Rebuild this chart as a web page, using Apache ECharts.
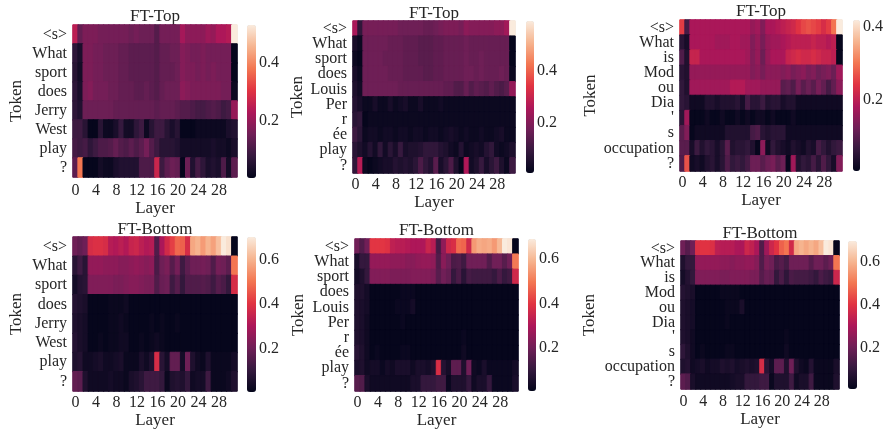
<!DOCTYPE html>
<html>
<head>
<meta charset="utf-8">
<title>FT-Top / FT-Bottom</title>
<script src="https://cdn.jsdelivr.net/npm/echarts@6/dist/echarts.min.js"></script>
<style>
  html, body { margin: 0; padding: 0; background: #fff; }
  #chart { width: 887px; height: 435px; }
</style>
</head>
<body>
<div id="chart"></div>
<script>
// layers on the x axis
const layers = ['0','1','2','3','4','5','6','7','8','9','10','11','12','13','14','15',
  '16','17','18','19','20','21','22','23','24','25','26','27','28','29','30','31'];

// tokens on the y axis
const tokensJerry = ['<s>','What','sport','does','Jerry','West','play','?'];
const tokensLouis = ['<s>','What','sport','does','Louis','Per','r','ée','play','?'];
const tokensModou = ['<s>','What','is','Mod','ou','Dia',"'",'s','occupation','?'];

// FT-Top, Jerry West
const topJerry = [
  [0.25,0.14,0.17,0.17,0.17,0.16,0.16,0.16,0.16,0.16,0.16,0.15,0.16,0.15,0.15,0.15,0.12,0.16,0.16,0.16,0.16,0.22,0.19,0.19,0.19,0.19,0.21,0.2,0.23,0.23,0.24,0.53],
  [0.07,0.04,0.17,0.17,0.16,0.16,0.15,0.15,0.15,0.14,0.14,0.13,0.13,0.13,0.13,0.13,0.12,0.14,0.14,0.15,0.15,0.18,0.17,0.16,0.16,0.17,0.16,0.16,0.16,0.16,0.16,0.01],
  [0.06,0.03,0.17,0.17,0.16,0.16,0.15,0.15,0.15,0.14,0.14,0.13,0.13,0.13,0.13,0.13,0.12,0.14,0.14,0.14,0.15,0.18,0.17,0.17,0.16,0.17,0.16,0.17,0.16,0.16,0.16,0.01],
  [0.07,0.04,0.17,0.18,0.16,0.16,0.16,0.15,0.15,0.14,0.14,0.14,0.13,0.13,0.14,0.13,0.12,0.14,0.15,0.15,0.15,0.19,0.18,0.17,0.17,0.17,0.17,0.17,0.17,0.16,0.16,0.02],
  [0.07,0.05,0.15,0.15,0.15,0.15,0.15,0.15,0.14,0.14,0.14,0.14,0.14,0.14,0.14,0.14,0.13,0.14,0.14,0.14,0.13,0.12,0.12,0.11,0.1,0.1,0.11,0.12,0.11,0.09,0.1,0.2],
  [0.09,0.09,0.06,0.01,0.01,0.06,0.02,0.02,0.04,0.08,0.03,0.03,0.07,0.09,0.02,0.06,0.09,0.09,0.06,0.04,0.06,0.01,0.01,0.01,0.02,0.02,0.02,0.02,0.02,0.02,0.04,0.05],
  [0.1,0.09,0.1,0.07,0.09,0.11,0.11,0.12,0.14,0.12,0.11,0.13,0.11,0.13,0.16,0.12,0.09,0.06,0.06,0.06,0.05,0.03,0.03,0.03,0.03,0.03,0.03,0.04,0.03,0.03,0.02,0.04],
  [0.13,0.38,0.01,0.01,0.01,0.03,0.02,0.02,0.04,0.05,0.05,0.05,0.05,0.11,0.11,0.11,0.27,0.09,0.13,0.15,0.14,0.01,0.15,0.05,0.1,0.07,0.04,0.05,0.04,0.11,0.03,0.13]
];

// FT-Top, Louis Perrée
const topLouis = [
  [0.25,0.08,0.18,0.18,0.18,0.18,0.18,0.18,0.18,0.17,0.17,0.17,0.17,0.17,0.16,0.16,0.17,0.18,0.19,0.19,0.19,0.18,0.21,0.2,0.2,0.2,0.2,0.2,0.21,0.21,0.24,0.59],
  [0.04,0.02,0.17,0.17,0.17,0.17,0.17,0.16,0.16,0.16,0.15,0.15,0.15,0.14,0.14,0.14,0.15,0.15,0.16,0.16,0.16,0.16,0.17,0.16,0.16,0.16,0.16,0.16,0.16,0.16,0.16,0.01],
  [0.02,0.01,0.17,0.17,0.17,0.17,0.16,0.16,0.16,0.16,0.15,0.15,0.15,0.14,0.14,0.14,0.15,0.15,0.16,0.16,0.16,0.16,0.17,0.16,0.16,0.17,0.16,0.16,0.16,0.16,0.16,0.01],
  [0.04,0.02,0.17,0.17,0.17,0.17,0.17,0.16,0.16,0.16,0.15,0.15,0.15,0.15,0.14,0.14,0.15,0.15,0.16,0.16,0.16,0.16,0.17,0.17,0.16,0.17,0.16,0.16,0.16,0.17,0.16,0.02],
  [0.05,0.03,0.17,0.17,0.17,0.17,0.17,0.17,0.17,0.16,0.16,0.16,0.16,0.16,0.16,0.16,0.16,0.16,0.15,0.15,0.13,0.13,0.16,0.13,0.15,0.14,0.13,0.15,0.13,0.12,0.14,0.22],
  [0.06,0.04,0.02,0.02,0.04,0.02,0.02,0.04,0.02,0.03,0.04,0.02,0.02,0.04,0.02,0.02,0.02,0.03,0.02,0.02,0.02,0.02,0.02,0.02,0.02,0.02,0.02,0.02,0.02,0.02,0.02,0.02],
  [0.07,0.08,0.01,0.02,0.02,0.02,0.02,0.02,0.02,0.02,0.02,0.02,0.02,0.02,0.02,0.02,0.02,0.02,0.02,0.02,0.02,0.02,0.02,0.02,0.02,0.02,0.02,0.02,0.02,0.02,0.02,0.02],
  [0.1,0.07,0.02,0.03,0.03,0.02,0.03,0.03,0.02,0.03,0.03,0.02,0.03,0.03,0.02,0.03,0.03,0.02,0.03,0.04,0.03,0.02,0.03,0.02,0.02,0.03,0.02,0.02,0.03,0.04,0.02,0.02],
  [0.07,0.05,0.03,0.06,0.03,0.08,0.03,0.07,0.04,0.09,0.04,0.05,0.05,0.06,0.08,0.08,0.08,0.06,0.05,0.03,0.02,0.06,0.02,0.03,0.04,0.03,0.06,0.08,0.03,0.02,0.03,0.05],
  [0.08,0.27,0.02,0.01,0.02,0.03,0.04,0.04,0.06,0.05,0.06,0.05,0.07,0.12,0.08,0.06,0.14,0.04,0.07,0.12,0.05,0.01,0.26,0.03,0.05,0.09,0.04,0.07,0.1,0.05,0.02,0.1]
];

// FT-Top, Modou Dia
const topModou = [
  [0.25,0.08,0.18,0.18,0.18,0.18,0.18,0.18,0.18,0.18,0.18,0.18,0.18,0.18,0.16,0.17,0.14,0.18,0.18,0.19,0.2,0.21,0.22,0.24,0.26,0.27,0.26,0.25,0.23,0.25,0.3,0.42],
  [0.05,0.03,0.18,0.18,0.18,0.18,0.18,0.17,0.17,0.17,0.18,0.18,0.17,0.17,0.14,0.16,0.13,0.16,0.17,0.17,0.18,0.19,0.2,0.2,0.2,0.2,0.21,0.2,0.2,0.19,0.2,0.01],
  [0.09,0.04,0.21,0.21,0.18,0.18,0.18,0.18,0.18,0.18,0.18,0.18,0.18,0.17,0.14,0.16,0.12,0.16,0.18,0.18,0.18,0.21,0.22,0.23,0.22,0.22,0.23,0.22,0.21,0.21,0.2,0.01],
  [0.05,0.04,0.16,0.16,0.16,0.16,0.16,0.16,0.16,0.16,0.16,0.16,0.16,0.16,0.14,0.15,0.13,0.15,0.15,0.15,0.14,0.15,0.13,0.14,0.15,0.13,0.14,0.12,0.13,0.14,0.12,0.17],
  [0.06,0.04,0.17,0.17,0.17,0.17,0.17,0.17,0.17,0.17,0.19,0.19,0.19,0.17,0.17,0.17,0.16,0.16,0.16,0.16,0.1,0.11,0.09,0.13,0.1,0.12,0.1,0.13,0.11,0.08,0.11,0.15],
  [0.06,0.05,0.02,0.02,0.02,0.04,0.04,0.03,0.04,0.04,0.04,0.05,0.03,0.08,0.05,0.05,0.07,0.04,0.05,0.05,0.03,0.04,0.04,0.02,0.02,0.02,0.02,0.02,0.02,0.02,0.02,0.02],
  [0.05,0.17,0.01,0.01,0.01,0.02,0.01,0.01,0.02,0.01,0.01,0.02,0.01,0.02,0.01,0.02,0.02,0.01,0.02,0.01,0.01,0.01,0.02,0.01,0.01,0.01,0.01,0.01,0.01,0.01,0.01,0.01],
  [0.1,0.14,0.01,0.02,0.02,0.02,0.02,0.02,0.02,0.04,0.04,0.04,0.04,0.04,0.08,0.09,0.05,0.04,0.05,0.05,0.05,0.02,0.02,0.02,0.02,0.02,0.02,0.02,0.02,0.02,0.02,0.02],
  [0.1,0.1,0.03,0.07,0.04,0.06,0.05,0.03,0.05,0.1,0.04,0.05,0.05,0.06,0.04,0.01,0.15,0.02,0.06,0.04,0.03,0.02,0.04,0.03,0.02,0.04,0.03,0.08,0.06,0.04,0.06,0.07],
  [0.09,0.27,0.02,0.03,0.02,0.04,0.05,0.03,0.05,0.09,0.06,0.07,0.06,0.08,0.12,0.12,0.1,0.12,0.13,0.1,0.12,0.01,0.17,0.04,0.06,0.05,0.08,0.05,0.09,0.06,0.03,0.14]
];

// FT-Bottom, Jerry West
const bottomJerry = [
  [0.2,0.18,0.2,0.38,0.39,0.39,0.38,0.32,0.31,0.33,0.31,0.35,0.36,0.33,0.31,0.32,0.15,0.3,0.37,0.42,0.48,0.47,0.38,0.58,0.6,0.56,0.6,0.57,0.62,0.7,0.68,0.01],
  [0.08,0.12,0.08,0.26,0.26,0.26,0.25,0.25,0.25,0.24,0.24,0.25,0.26,0.25,0.24,0.25,0.14,0.2,0.22,0.16,0.21,0.12,0.17,0.2,0.2,0.21,0.2,0.15,0.21,0.2,0.17,0.5],
  [0.04,0.07,0.08,0.23,0.23,0.23,0.23,0.23,0.22,0.22,0.23,0.24,0.24,0.23,0.22,0.22,0.15,0.19,0.2,0.12,0.16,0.1,0.15,0.15,0.15,0.16,0.15,0.12,0.16,0.14,0.1,0.38],
  [0.07,0.06,0.05,0.01,0.01,0.01,0.01,0.02,0.02,0.02,0.03,0.01,0.01,0.01,0.01,0.01,0.01,0.01,0.01,0.01,0.01,0.01,0.01,0.01,0.01,0.01,0.01,0.01,0.01,0.01,0.01,0.01],
  [0.06,0.05,0.04,0.01,0.01,0.01,0.01,0.02,0.02,0.03,0.02,0.01,0.01,0.01,0.01,0.02,0.01,0.02,0.01,0.01,0.02,0.01,0.01,0.01,0.01,0.01,0.01,0.01,0.01,0.01,0.01,0.01],
  [0.07,0.05,0.04,0.01,0.01,0.02,0.01,0.02,0.02,0.03,0.03,0.01,0.01,0.02,0.01,0.02,0.03,0.02,0.01,0.01,0.01,0.01,0.01,0.01,0.01,0.01,0.01,0.01,0.01,0.01,0.01,0.01],
  [0.06,0.07,0.03,0.03,0.04,0.05,0.03,0.03,0.04,0.05,0.02,0.02,0.02,0.05,0.03,0.06,0.38,0.08,0.04,0.18,0.18,0.04,0.2,0.06,0.03,0.02,0.06,0.02,0.02,0.02,0.02,0.04],
  [0.18,0.17,0.06,0.03,0.03,0.03,0.03,0.04,0.03,0.03,0.02,0.05,0.06,0.08,0.12,0.12,0.12,0.1,0.02,0.06,0.07,0.06,0.1,0.03,0.04,0.04,0.12,0.02,0.02,0.02,0.03,0.06]
];

// FT-Bottom, Louis Perrée
const bottomLouis = [
  [0.2,0.15,0.2,0.4,0.4,0.4,0.39,0.33,0.32,0.32,0.31,0.3,0.3,0.3,0.35,0.32,0.13,0.25,0.36,0.38,0.48,0.47,0.36,0.55,0.58,0.57,0.58,0.55,0.6,0.69,0.68,0.01],
  [0.05,0.1,0.1,0.26,0.26,0.26,0.26,0.25,0.25,0.25,0.24,0.24,0.25,0.26,0.26,0.25,0.15,0.24,0.2,0.14,0.15,0.12,0.2,0.2,0.2,0.2,0.15,0.2,0.2,0.16,0.2,0.5],
  [0.04,0.06,0.1,0.23,0.23,0.23,0.23,0.22,0.22,0.22,0.22,0.23,0.23,0.23,0.23,0.22,0.16,0.2,0.18,0.1,0.14,0.08,0.13,0.12,0.12,0.12,0.12,0.1,0.14,0.1,0.12,0.36],
  [0.06,0.06,0.04,0.01,0.01,0.01,0.01,0.01,0.01,0.02,0.02,0.02,0.01,0.01,0.01,0.01,0.01,0.01,0.01,0.01,0.01,0.01,0.01,0.01,0.01,0.01,0.01,0.01,0.01,0.01,0.01,0.01],
  [0.06,0.05,0.04,0.01,0.01,0.01,0.01,0.01,0.02,0.02,0.02,0.04,0.01,0.01,0.01,0.01,0.01,0.01,0.01,0.01,0.01,0.01,0.01,0.01,0.01,0.01,0.01,0.01,0.01,0.01,0.01,0.01],
  [0.06,0.05,0.03,0.01,0.01,0.01,0.01,0.01,0.01,0.02,0.01,0.01,0.01,0.01,0.01,0.01,0.01,0.01,0.01,0.01,0.01,0.01,0.01,0.01,0.01,0.01,0.01,0.01,0.01,0.01,0.01,0.01],
  [0.06,0.05,0.03,0.01,0.01,0.01,0.01,0.01,0.01,0.01,0.01,0.01,0.01,0.01,0.01,0.01,0.01,0.01,0.01,0.01,0.01,0.02,0.01,0.01,0.01,0.01,0.01,0.01,0.01,0.01,0.01,0.01],
  [0.08,0.06,0.03,0.01,0.02,0.01,0.01,0.01,0.01,0.02,0.02,0.01,0.01,0.01,0.01,0.01,0.01,0.01,0.01,0.01,0.01,0.03,0.01,0.01,0.01,0.01,0.01,0.01,0.01,0.01,0.01,0.01],
  [0.05,0.06,0.03,0.04,0.04,0.02,0.04,0.03,0.05,0.05,0.05,0.03,0.05,0.05,0.04,0.06,0.38,0.07,0.04,0.17,0.17,0.06,0.2,0.03,0.02,0.05,0.02,0.02,0.02,0.02,0.02,0.04],
  [0.16,0.15,0.05,0.03,0.03,0.03,0.03,0.03,0.03,0.03,0.03,0.05,0.05,0.1,0.1,0.1,0.12,0.12,0.02,0.06,0.06,0.06,0.1,0.03,0.05,0.05,0.1,0.02,0.02,0.02,0.02,0.05]
];

// FT-Bottom, Modou Dia
const bottomModou = [
  [0.2,0.16,0.2,0.39,0.4,0.4,0.39,0.33,0.32,0.32,0.32,0.3,0.3,0.36,0.34,0.3,0.15,0.28,0.36,0.4,0.47,0.5,0.37,0.58,0.6,0.58,0.6,0.58,0.62,0.7,0.69,0.01],
  [0.06,0.1,0.1,0.26,0.26,0.26,0.26,0.26,0.25,0.25,0.24,0.25,0.25,0.26,0.26,0.24,0.15,0.22,0.2,0.14,0.16,0.13,0.2,0.2,0.2,0.2,0.16,0.2,0.2,0.17,0.2,0.5],
  [0.04,0.07,0.1,0.23,0.23,0.23,0.23,0.23,0.22,0.22,0.23,0.23,0.23,0.23,0.22,0.22,0.16,0.19,0.18,0.1,0.14,0.09,0.14,0.13,0.13,0.13,0.12,0.1,0.14,0.12,0.11,0.36],
  [0.07,0.06,0.05,0.01,0.01,0.01,0.01,0.01,0.02,0.02,0.02,0.02,0.01,0.01,0.01,0.01,0.01,0.01,0.01,0.01,0.01,0.01,0.01,0.01,0.01,0.01,0.01,0.01,0.01,0.01,0.01,0.01],
  [0.06,0.05,0.04,0.01,0.01,0.01,0.01,0.01,0.01,0.02,0.02,0.02,0.05,0.01,0.01,0.01,0.01,0.01,0.01,0.01,0.01,0.01,0.01,0.01,0.01,0.01,0.01,0.01,0.01,0.01,0.01,0.01],
  [0.06,0.05,0.04,0.01,0.01,0.01,0.01,0.01,0.01,0.02,0.01,0.01,0.01,0.01,0.01,0.01,0.01,0.01,0.01,0.01,0.01,0.01,0.01,0.01,0.01,0.01,0.01,0.01,0.01,0.01,0.01,0.01],
  [0.06,0.05,0.03,0.01,0.01,0.01,0.01,0.01,0.01,0.01,0.01,0.01,0.01,0.01,0.01,0.01,0.01,0.01,0.01,0.01,0.01,0.02,0.01,0.01,0.01,0.01,0.01,0.01,0.01,0.01,0.01,0.01],
  [0.09,0.06,0.03,0.01,0.02,0.01,0.01,0.01,0.01,0.02,0.02,0.01,0.01,0.01,0.01,0.01,0.01,0.01,0.01,0.01,0.01,0.03,0.01,0.01,0.01,0.01,0.01,0.01,0.01,0.01,0.01,0.01],
  [0.06,0.07,0.03,0.04,0.05,0.03,0.04,0.04,0.06,0.05,0.06,0.04,0.05,0.06,0.05,0.06,0.38,0.08,0.04,0.17,0.17,0.06,0.2,0.06,0.03,0.02,0.07,0.02,0.02,0.02,0.02,0.05],
  [0.17,0.15,0.05,0.03,0.03,0.03,0.03,0.03,0.03,0.03,0.04,0.05,0.05,0.1,0.1,0.1,0.12,0.12,0.02,0.06,0.06,0.06,0.12,0.03,0.05,0.05,0.12,0.02,0.02,0.02,0.02,0.06]
];

// colorbar tick labels
const ticksTop = [0.2, 0.4];
const ticksBottom = [0.2, 0.4, 0.6];

// seaborn "rocket"
const rocket = ['#03051a', '#35193e', '#701f57', '#ad1759', '#e13342', '#f37651', '#f6b48f', '#faebdd'];

const textColor = '#262626';
const serif = "'Liberation Serif', 'DejaVu Serif', serif";

// same colour as the visualMap gives, used for the cell outline so no seams show between cells
const rocketRgb = rocket.map(h => [1, 3, 5].map(k => parseInt(h.slice(k, k + 2), 16)));
function rocketColor(v, min, max) {
  let f = (v - min) / (max - min);
  f = Math.max(0, Math.min(1, f));
  const pos = f * (rocketRgb.length - 1);
  const i = Math.min(Math.floor(pos), rocketRgb.length - 2);
  const t = pos - i;
  const a = rocketRgb[i], b = rocketRgb[i + 1];
  return 'rgb(' + a.map((x, k) => Math.round(x + (b[k] - x) * t)).join(',') + ')';
}

// layout: heatmap box [left, top, width, height], colorbar box, title centre, gaps
const panels = [
  { title: 'FT-Top', tokens: tokensJerry, values: topJerry, min: 0.005, max: 0.53, ticks: ticksTop,
    box: [73, 25, 164, 152], bar: [247, 25, 9, 153], titleY: 17, labelMargin: 6, layerGap: 22, tokenGap: 48 },
  { title: 'FT-Top', tokens: tokensLouis, values: topLouis, min: 0.005, max: 0.59, ticks: ticksTop,
    box: [353, 21, 162, 152], bar: [526, 21, 8, 152], titleY: 14, labelMargin: 4, layerGap: 20, tokenGap: 47 },
  { title: 'FT-Top', tokens: tokensModou, values: topModou, min: 0.005, max: 0.42, ticks: ticksTop,
    box: [680, 20, 162, 151], bar: [853, 20, 7, 151], titleY: 12, labelMargin: 4, layerGap: 19, tokenGap: 81 },
  { title: 'FT-Bottom', tokens: tokensJerry, values: bottomJerry, min: 0.005, max: 0.7, ticks: ticksBottom,
    box: [73, 237, 164, 154], bar: [247, 237, 9, 155], titleY: 230, labelMargin: 4, layerGap: 20, tokenGap: 48 },
  { title: 'FT-Bottom', tokens: tokensLouis, values: bottomLouis, min: 0.005, max: 0.69, ticks: ticksBottom,
    box: [355, 239, 163, 152], bar: [528, 239, 8, 152], titleY: 231, labelMargin: 4, layerGap: 19, tokenGap: 48 },
  { title: 'FT-Bottom', tokens: tokensModou, values: bottomModou, min: 0.005, max: 0.7, ticks: ticksBottom,
    box: [681, 241, 158, 148], bar: [848, 241, 9, 148], titleY: 234, labelMargin: 5, layerGap: 21, tokenGap: 83 }
];

const grid = [], xAxis = [], yAxis = [], visualMap = [], series = [], graphic = [];

panels.forEach((p, i) => {
  const [l, t, w, h] = p.box;
  grid.push({ left: l, top: t, width: w, height: h, show: true, borderColor: '#d6d0dc', borderWidth: 1 });
  xAxis.push({
    type: 'category', gridIndex: i, data: layers,
    axisLine: { show: false }, axisTick: { show: false }, splitLine: { show: false },
    axisLabel: { interval: 3, margin: p.labelMargin, color: textColor, fontSize: 16, fontFamily: serif },
    name: 'Layer', nameLocation: 'middle', nameGap: p.layerGap,
    nameTextStyle: { color: textColor, fontSize: 17, fontFamily: serif }
  });
  yAxis.push({
    type: 'category', gridIndex: i, data: p.tokens, inverse: true,
    axisLine: { show: false }, axisTick: { show: false }, splitLine: { show: false },
    axisLabel: { interval: 0, margin: 6, color: textColor, fontSize: 16, fontFamily: serif },
    name: 'Token', nameLocation: 'middle', nameGap: p.tokenGap, nameRotate: 90,
    nameTextStyle: { color: textColor, fontSize: 17, fontFamily: serif }
  });

  const data = [];
  p.values.forEach((row, r) => row.forEach((v, c) => data.push({
    value: [c, r, v],
    itemStyle: { borderColor: rocketColor(v, p.min, p.max), borderWidth: 1 }
  })));
  series.push({
    type: 'heatmap', xAxisIndex: i, yAxisIndex: i, data: data,
    emphasis: { disabled: true }, silent: true
  });

  visualMap.push({
    type: 'continuous', seriesIndex: i, dimension: 2, min: p.min, max: p.max,
    calculable: false, hoverLink: false, orient: 'vertical', padding: 0,
    left: p.bar[0], top: p.bar[1], itemWidth: p.bar[2], itemHeight: p.bar[3],
    inRange: { color: rocket }
  });

  graphic.push({
    type: 'text', x: l + w / 2, y: p.titleY, silent: true,
    style: { text: p.title, align: 'center', verticalAlign: 'middle', fill: textColor,
      font: '17px ' + serif }
  });
});

// colorbar axes
panels.forEach((p, i) => {
  const gi = panels.length + i;
  const [l, t, w, h] = p.bar;
  grid.push({ left: l, top: t, width: w, height: h });
  xAxis.push({ type: 'value', gridIndex: gi, show: false });
  yAxis.push({
    type: 'value', gridIndex: gi, min: p.min, max: p.max, position: 'right',
    axisLine: { show: false }, splitLine: { show: false },
    axisTick: { show: true, length: 3, customValues: p.ticks, lineStyle: { color: textColor } },
    axisLabel: { customValues: p.ticks, margin: 3, color: textColor, fontSize: 16, fontFamily: serif,
      formatter: v => v.toFixed(1) }
  });
});

const chart = echarts.init(document.getElementById('chart'), null, { renderer: 'canvas' });
chart.setOption({
  animation: false,
  backgroundColor: '#ffffff',
  grid: grid,
  xAxis: xAxis,
  yAxis: yAxis,
  visualMap: visualMap,
  series: series,
  graphic: graphic
});
</script>
</body>
</html>
